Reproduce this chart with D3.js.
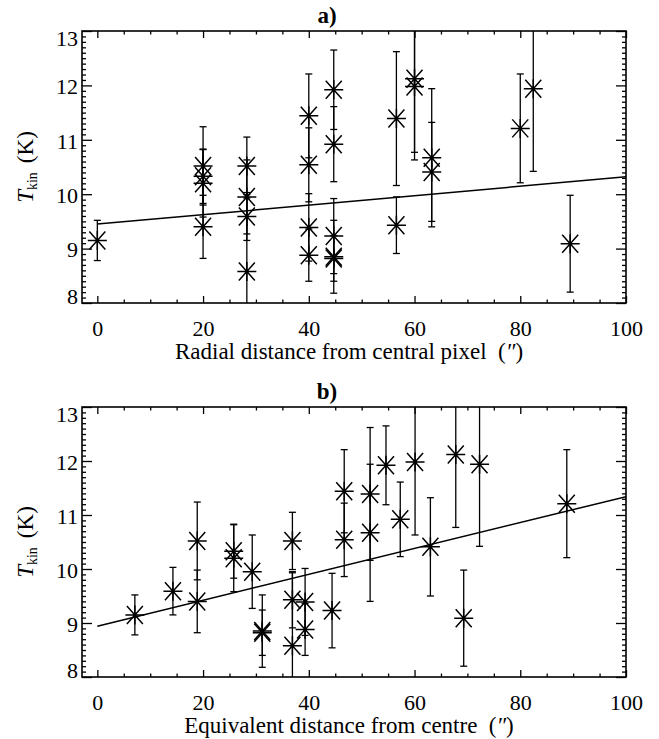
<!DOCTYPE html>
<html><head><meta charset="utf-8">
<script src="https://cdn.jsdelivr.net/npm/d3@7"></script>
<style>body{margin:0;background:#fff} svg{display:block}</style>
</head><body>
<script>
// ---- data (T_kin in K, symmetric error, radial distance, equivalent distance) ----
const tkin = [9.15,10.52,9.40,10.33,10.20,9.59,9.95,10.52,8.58,11.44,10.54,9.39,8.88,11.92,10.92,9.23,8.85,8.82,11.39,9.43,12.12,11.98,10.67,10.41,11.21,11.94,9.09];
const tkinErr = [0.37,0.72,0.58,0.50,0.62,0.44,0.68,0.53,1.35,0.77,0.68,0.62,0.48,0.73,0.69,0.69,0.67,0.42,1.23,0.52,1.35,1.35,1.27,0.91,1.00,1.52,0.89];
const radialDist = [0,20,20,20,20,28.28,28.28,28.28,28.28,40,40,40,40,44.72,44.72,44.72,44.72,44.72,56.57,56.57,60,60,63.25,63.25,80,82.46,89.44];
const equivDist = [7.1,18.9,18.9,25.8,25.8,14.3,29.3,36.9,36.9,46.7,46.7,39.3,39.3,54.6,57.3,44.4,31.2,31.2,51.6,36.9,67.8,60.1,51.6,63.0,88.8,72.3,69.3];
// linear fits: [intercept, slope]
const fitRadial = [9.45, 0.0087];
const fitEquiv = [8.94, 0.0240];
const xMajorTicks = [0,20,40,60,80,100];
const yMajorTicks = [8,9,10,11,12,13];
const xDomain = [-2.9, 100];
const yDomain = [8, 13];
const panelLabels = ["a)", "b)"];
const xTitles = ["Radial distance from central pixel", "Equivalent distance from centre"];

const FONT = "'Liberation Serif', 'DejaVu Serif', 'Times New Roman', serif";
const W = 659, H = 739;
const svg = d3.select("body").append("svg").attr("width", W).attr("height", H)
  .style("font-family", FONT);
const left = 82, right = 626;
const boxes = [{top: 31, bottom: 303}, {top: 407, bottom: 677}];
const xsList = [radialDist, equivDist];
const fits = [fitRadial, fitEquiv];
const FS = 22, TFS = 23;

const xMinor = d3.range(0, 100.001, 5).filter(v => !xMajorTicks.includes(v));
const yMinor = d3.range(80, 131, 1).map(v => v / 10).filter(v => !yMajorTicks.includes(v));

boxes.forEach((b, i) => {
  const x = d3.scaleLinear().domain(xDomain).range([left, right]);
  const y = d3.scaleLinear().domain(yDomain).range([b.bottom, b.top]);
  const g = svg.append("g");
  const cid = "clip" + i;
  svg.append("clipPath").attr("id", cid).append("rect")
    .attr("x", left).attr("y", b.top).attr("width", right - left).attr("height", b.bottom - b.top);

  const axStyle = sel => {
    sel.attr("font-family", null).attr("font-size", null);
    sel.select(".domain").remove();
    sel.selectAll("line").attr("stroke", "#000").attr("stroke-width", 1.3);
    sel.selectAll("text").style("font-family", FONT).style("font-size", FS + "px").attr("fill", "#000");
  };
  // minor ticks
  g.append("g").attr("transform", `translate(0,${b.bottom})`)
    .call(d3.axisBottom(x).tickValues(xMinor).tickSize(-3.5).tickFormat("")).call(axStyle);
  g.append("g").attr("transform", `translate(0,${b.top})`)
    .call(d3.axisTop(x).tickValues(xMinor).tickSize(-3.5).tickFormat("")).call(axStyle);
  g.append("g").attr("transform", `translate(${left},0)`)
    .call(d3.axisLeft(y).tickValues(yMinor).tickSize(-4).tickFormat("")).call(axStyle);
  g.append("g").attr("transform", `translate(${right},0)`)
    .call(d3.axisRight(y).tickValues(yMinor).tickSize(-4).tickFormat("")).call(axStyle);
  // major ticks
  g.append("g").attr("transform", `translate(0,${b.bottom})`)
    .call(d3.axisBottom(x).tickValues(xMajorTicks).tickSize(-7).tickPadding(17).tickFormat(d3.format("d"))).call(axStyle);
  g.append("g").attr("transform", `translate(0,${b.top})`)
    .call(d3.axisTop(x).tickValues(xMajorTicks).tickSize(-7).tickFormat("")).call(axStyle);
  const yl = g.append("g").attr("transform", `translate(${left},0)`)
    .call(d3.axisLeft(y).tickValues(yMajorTicks).tickSize(-10).tickPadding(4).tickFormat(d3.format("d"))).call(axStyle);
  yl.selectAll("text").attr("dy", d => d === 13 ? "0.68em" : d === 8 ? "0em" : "0.38em");
  g.append("g").attr("transform", `translate(${right},0)`)
    .call(d3.axisRight(y).tickValues(yMajorTicks).tickSize(-10).tickFormat("")).call(axStyle);

  // box
  g.append("rect").attr("x", left).attr("y", b.top).attr("width", right - left).attr("height", b.bottom - b.top)
    .attr("fill", "none").attr("stroke", "#000").attr("stroke-width", 1.6);

  const data = tkin.map((t, k) => ({x: xsList[i][k], t, e: tkinErr[k]}));
  const pg = g.append("g").attr("clip-path", `url(#${cid})`);
  // error bars
  const eb = pg.selectAll("g.eb").data(data).join("g").attr("class", "eb");
  eb.append("line").attr("x1", d => x(d.x)).attr("x2", d => x(d.x))
    .attr("y1", d => y(d.t + d.e)).attr("y2", d => y(d.t - d.e)).attr("stroke", "#000").attr("stroke-width", 1.3);
  eb.append("line").attr("x1", d => x(d.x) - 3.5).attr("x2", d => x(d.x) + 3.5)
    .attr("y1", d => y(d.t + d.e)).attr("y2", d => y(d.t + d.e)).attr("stroke", "#000").attr("stroke-width", 1.3);
  eb.append("line").attr("x1", d => x(d.x) - 3.5).attr("x2", d => x(d.x) + 3.5)
    .attr("y1", d => y(d.t - d.e)).attr("y2", d => y(d.t - d.e)).attr("stroke", "#000").attr("stroke-width", 1.3);
  // asterisks
  const sym = "M-9.5,0L9.5,0M-8,-9L8,9M-8,9L8,-9M0,-9.5L0,9.5";
  pg.selectAll("path.star").data(data).join("path").attr("class", "star")
    .attr("transform", d => `translate(${x(d.x)},${y(d.t)})`)
    .attr("d", sym).attr("fill", "none").attr("stroke", "#000").attr("stroke-width", 1.5);
  // fit line
  const f = fits[i];
  pg.append("line").attr("x1", x(0)).attr("y1", y(f[0])).attr("x2", x(100)).attr("y2", y(f[0] + f[1] * 100))
    .attr("stroke", "#000").attr("stroke-width", 1.5);

  // titles
  svg.append("text").attr("x", 327).attr("y", b.top - 8).attr("text-anchor", "middle")
    .style("font-family", FONT).style("font-size", TFS + "px").attr("font-weight", "bold").text(panelLabels[i]);
  const xt = svg.append("text").attr("x", 349).attr("y", b.bottom + 56).attr("text-anchor", "middle")
    .style("font-family", FONT).style("font-size", TFS + "px").style("white-space", "pre");
  xt.append("tspan").text(xTitles[i] + "  (");
  xt.append("tspan").attr("font-style", "italic").text("\u2033");
  xt.append("tspan").text(")");
  const yt = svg.append("text").attr("transform", `translate(33,${(b.top + b.bottom) / 2}) rotate(-90)`)
    .attr("text-anchor", "middle").style("font-family", FONT).style("font-size", TFS + "px");
  yt.append("tspan").attr("font-style", "italic").text("T");
  yt.append("tspan").style("font-size", "14px").attr("dy", 4).text("kin");
  yt.append("tspan").attr("dy", -4).attr("dx", 9).text("(K)");
});
</script>
</body></html>
